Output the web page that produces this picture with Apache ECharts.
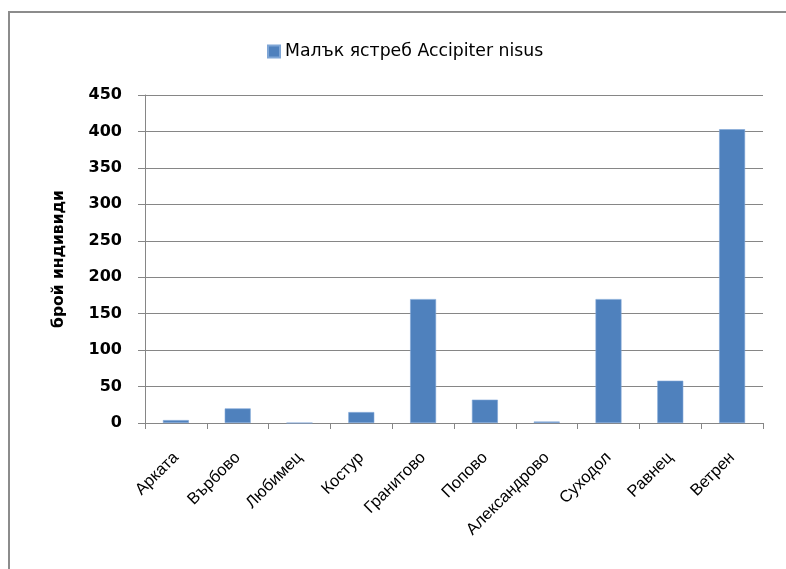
<!DOCTYPE html>
<html><head><meta charset="utf-8">
<script src="https://cdn.jsdelivr.net/npm/echarts@6/dist/echarts.min.js"></script>
<style>
html,body{margin:0;padding:0;background:#fff;overflow:hidden;}
#frame{position:absolute;left:8px;top:11px;width:900px;height:700px;border:2px solid #8c8c8c;box-sizing:border-box;}
#chart{position:absolute;left:0;top:0;width:786px;height:569px;}
</style></head>
<body>
<div id="frame"></div>
<div id="chart"></div>
<script>
const categories = ['Арката','Върбово','Любимец','Костур','Гранитово','Попово','Александрово','Суходол','Равнец','Ветрен'];
const seriesName = 'Малък ястреб Accipiter nisus';
const values = [4, 20, 0, 15, 170, 32, 2, 170, 58, 403];
const yTitle = 'брой индивиди';

const chart = echarts.init(document.getElementById('chart'));
chart.setOption({
  animation: false,
  backgroundColor: 'transparent',
  legend: {
    top: 38, left: 262,
    itemWidth: 12, itemHeight: 12,
    icon: 'rect',
    textStyle: {fontFamily: 'DejaVu Sans', fontSize: 17.3, color: '#000'},
    data: [seriesName]
  },
  grid: {left: 145, right: 23, top: 95, bottom: 146},
  xAxis: {
    type: 'category', data: categories,
    axisLine: {lineStyle: {color: '#868686', width: 1}},
    axisTick: {show: true, length: 6, lineStyle: {color: '#868686'}},
    axisLabel: {rotate: 45, margin: 32, color: '#000', fontFamily: 'Liberation Sans', fontSize: 16.5, interval: 0}
  },
  yAxis: {
    type: 'value', min: 0, max: 450, interval: 50,
    name: yTitle, nameLocation: 'middle', nameGap: 78, nameRotate: 90,
    nameTextStyle: {fontFamily: 'DejaVu Sans', fontWeight: 'bold', fontSize: 15.5, color: '#000'},
    axisLine: {show: true, lineStyle: {color: '#868686'}},
    axisTick: {show: true, length: 7, inside: false, lineStyle: {color: '#868686'}},
    axisLabel: {margin: 23, color: '#000', fontFamily: 'DejaVu Sans', fontWeight: 'bold', fontSize: 16},
    splitLine: {lineStyle: {color: '#868686', width: 1}}
  },
  series: [{
    name: seriesName, type: 'bar', data: values,
    barCategoryGap: '58%',
    itemStyle: {color: '#4F81BD', borderColor: '#7fa6d6', borderWidth: 0.6}
  }]
});
</script>
</body></html>
